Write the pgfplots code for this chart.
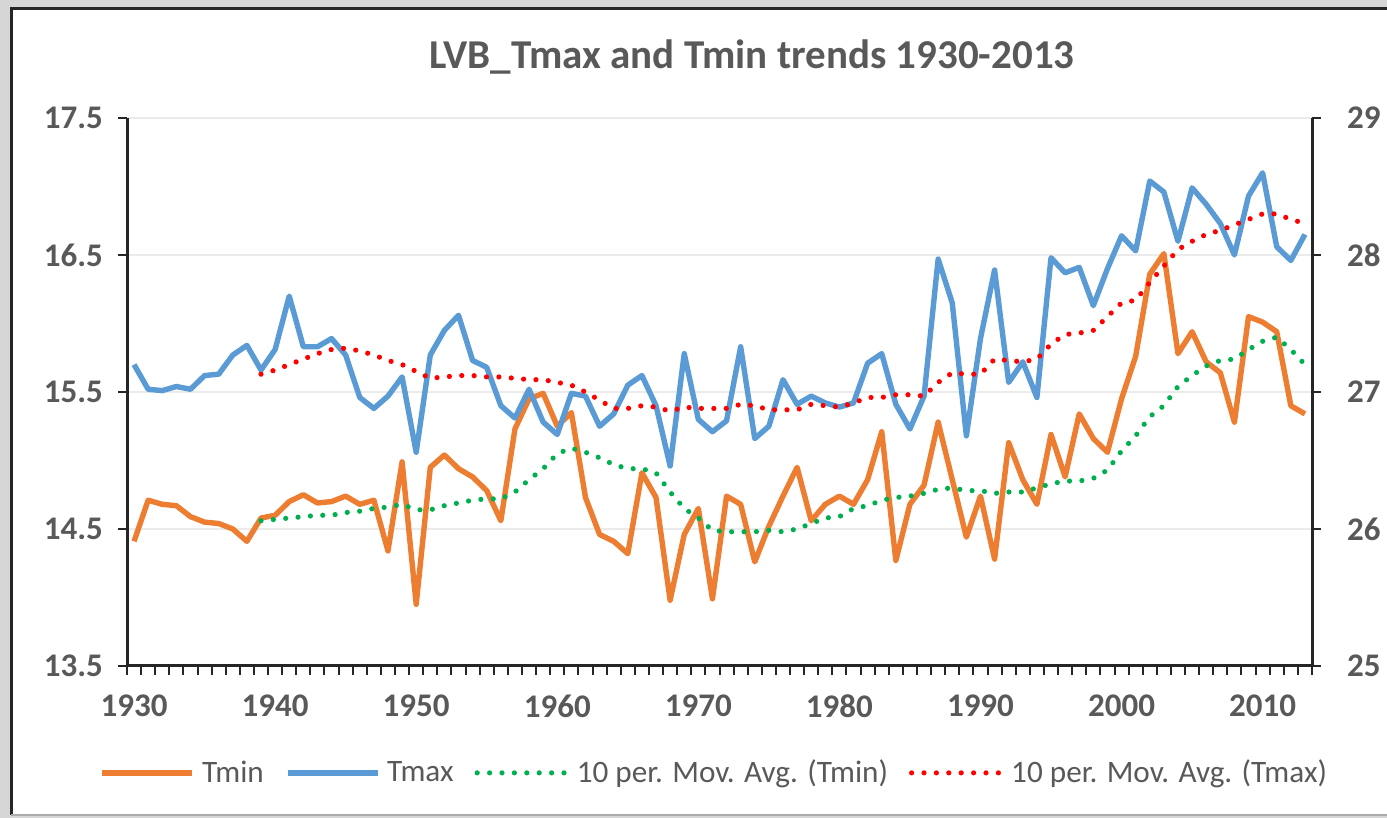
\documentclass[border=0pt]{standalone}
\usepackage{fontspec}
\setmainfont{Carlito}
\usepackage{pgfplots}
\usepackage{pgfplotstable}
\pgfplotsset{compat=1.18}
\definecolor{cOrange}{HTML}{ED7D31}
\definecolor{cBlue}{HTML}{5B9BD5}
\definecolor{cGreen}{HTML}{00B050}
\definecolor{cRed}{HTML}{FF0000}
\definecolor{cText}{HTML}{595959}
\definecolor{cGrid}{HTML}{EBEBEB}
\definecolor{cAxis}{HTML}{262626}
\definecolor{cOut}{HTML}{D6D6D6}

\pgfplotstableread{
year tmin tmax
1930 14.41 27.20
1931 14.71 27.02
1932 14.68 27.01
1933 14.67 27.04
1934 14.59 27.02
1935 14.55 27.12
1936 14.54 27.13
1937 14.50 27.27
1938 14.41 27.34
1939 14.58 27.16
1940 14.60 27.31
1941 14.70 27.70
1942 14.75 27.33
1943 14.69 27.33
1944 14.70 27.39
1945 14.74 27.27
1946 14.68 26.96
1947 14.71 26.88
1948 14.34 26.97
1949 14.99 27.11
1950 13.95 26.56
1951 14.95 27.27
1952 15.04 27.45
1953 14.94 27.56
1954 14.88 27.23
1955 14.78 27.18
1956 14.56 26.90
1957 15.23 26.81
1958 15.45 27.02
1959 15.49 26.78
1960 15.25 26.69
1961 15.35 26.99
1962 14.73 26.97
1963 14.46 26.75
1964 14.41 26.84
1965 14.32 27.05
1966 14.91 27.12
1967 14.73 26.90
1968 13.98 26.46
1969 14.46 27.28
1970 14.65 26.80
1971 13.99 26.71
1972 14.74 26.79
1973 14.68 27.33
1974 14.26 26.66
1975 14.52 26.75
1976 14.74 27.09
1977 14.95 26.91
1978 14.56 26.97
1979 14.68 26.92
1980 14.74 26.89
1981 14.68 26.92
1982 14.86 27.21
1983 15.21 27.28
1984 14.27 26.91
1985 14.68 26.73
1986 14.82 26.97
1987 15.28 27.97
1988 14.86 27.65
1989 14.44 26.68
1990 14.74 27.39
1991 14.28 27.89
1992 15.13 27.07
1993 14.86 27.22
1994 14.68 26.96
1995 15.19 27.98
1996 14.88 27.87
1997 15.34 27.91
1998 15.16 27.63
1999 15.06 27.90
2000 15.45 28.14
2001 15.76 28.03
2002 16.36 28.54
2003 16.51 28.46
2004 15.78 28.10
2005 15.94 28.49
2006 15.72 28.37
2007 15.64 28.23
2008 15.28 28.00
2009 16.05 28.43
2010 16.01 28.60
2011 15.94 28.06
2012 15.40 27.96
2013 15.34 28.15
}\annual

\pgfplotstableread{
year matmin matmax
1939 14.56 27.13
1940 14.57 27.16
1941 14.58 27.20
1942 14.59 27.24
1943 14.60 27.28
1944 14.60 27.31
1945 14.62 27.32
1946 14.63 27.30
1947 14.65 27.27
1948 14.66 27.23
1949 14.68 27.20
1950 14.64 27.15
1951 14.64 27.10
1952 14.67 27.11
1953 14.69 27.12
1954 14.71 27.12
1955 14.72 27.11
1956 14.72 27.11
1957 14.77 27.10
1958 14.86 27.09
1959 14.94 27.09
1960 15.05 27.07
1961 15.09 27.05
1962 15.06 27.00
1963 15.02 26.94
1964 14.97 26.88
1965 14.94 26.88
1966 14.94 26.90
1967 14.91 26.89
1968 14.77 26.86
1969 14.65 26.89
1970 14.58 26.88
1971 14.49 26.88
1972 14.48 26.88
1973 14.48 26.91
1974 14.48 26.90
1975 14.49 26.87
1976 14.48 26.87
1977 14.50 26.87
1978 14.54 26.91
1979 14.58 26.90
1980 14.59 26.89
1981 14.65 26.92
1982 14.67 26.96
1983 14.71 26.96
1984 14.73 26.98
1985 14.74 26.98
1986 14.76 26.97
1987 14.79 27.07
1988 14.80 27.14
1989 14.78 27.13
1990 14.78 27.13
1991 14.76 27.24
1992 14.77 27.23
1993 14.77 27.22
1994 14.80 27.24
1995 14.83 27.35
1996 14.85 27.42
1997 14.85 27.43
1998 14.87 27.45
1999 14.93 27.55
2000 15.07 27.65
2001 15.18 27.67
2002 15.32 27.80
2003 15.40 27.92
2004 15.54 28.04
2005 15.62 28.10
2006 15.69 28.15
2007 15.73 28.18
2008 15.74 28.22
2009 15.81 28.26
2010 15.87 28.30
2011 15.90 28.30
2012 15.81 28.26
2013 15.70 28.23
}\mavg

\pgfplotsset{
  common/.style={
    at={(63.5pt,76pt)}, anchor=south west, scale only axis,
    width=592.5pt, height=274pt,
    xmin=1929.5, xmax=2013.5,
    axis line style={cAxis, line width=1.5pt, -},
    tick align=outside, major tick length=4.5pt,
    tick style={cAxis, line width=1pt},
    /pgf/number format/assume math mode=true,
    ticklabel style={font=\bfseries\fontsize{16.5}{18}\selectfont, text=cText},
  },
}

\begin{document}
\begin{tikzpicture}
\path[use as bounding box] (0pt,0pt) rectangle (693.5pt,409pt);
\fill[cOut] (0pt,0pt) rectangle (693.5pt,409pt);
\fill[white] (5.5pt,1.5pt) rectangle (700pt,404.5pt);
\draw[cAxis, line width=1.5pt] (5.5pt,1.5pt) -- (5.5pt,404.5pt) -- (700pt,404.5pt);
\draw[cOut!80!black, line width=0.6pt] (5.5pt,1.5pt) -- (700pt,1.5pt);
\node[font=\bfseries\fontsize{20.5}{24}\selectfont, text=cText] at (376pt,380.5pt) {LVB\_Tmax and Tmin trends 1930-2013};

\begin{axis}[common,
  ymin=13.5, ymax=17.5,
  axis x line*=bottom, axis y line*=left,
  ytick={13.5,14.5,15.5,16.5,17.5},
  yticklabel style={/pgf/number format/fixed, /pgf/number format/fixed zerofill, /pgf/number format/precision=1, anchor=east, xshift=-4pt},
  xticklabel style={anchor=north, yshift=-11pt},
  ymajorgrids, grid style={cGrid, line width=1pt},
  xtick={1929.5,1930.5,...,2013.5}, xticklabels={},
  extra x ticks={1930,1940,1950,1960,1970,1980,1990,2000,2010},
  extra x tick labels={1930,1940,1950,1960,1970,1980,1990,2000,2010},
  extra x tick style={major tick length=0pt, grid=none},
]
\addplot[cOrange, line width=2.7pt, line join=round] table[x=year,y=tmin]{\annual};
\addplot[cGreen, line width=2.6pt, line cap=round, dash pattern=on 0pt off 6.2pt] table[x=year,y=matmin]{\mavg};
\end{axis}

\begin{axis}[common,
  ymin=25, ymax=29,
  axis x line=none, axis y line*=right,
  ytick={25,26,27,28,29},
  yticklabel style={anchor=west, xshift=9.5pt},
  legend style={at={(0.4965,-0.195)}, anchor=center, draw=none, fill=none,
    legend columns=4, font=\fontsize{15.6}{17}\selectfont, text=cText,
    /tikz/every odd column/.append style={column sep=1.5pt},
    /tikz/every even column/.append style={column sep=8.5pt}},
  legend image code/.code={\draw[#1] (0pt,0pt) -- (45pt,0pt);},
]
\addlegendimage{cOrange, line width=2.7pt}
\addlegendentry{Tmin}
\addplot[cBlue, line width=2.7pt, line join=round] table[x=year,y=tmax]{\annual};
\addlegendentry{Tmax}
\addlegendimage{cGreen, line width=2.6pt, line cap=round, dash pattern=on 0pt off 6.2pt}
\addlegendentry{10 per. Mov. Avg. (Tmin)}
\addplot[cRed, line width=2.6pt, line cap=round, dash pattern=on 0pt off 6.2pt] table[x=year,y=matmax]{\mavg};
\addlegendentry{10 per. Mov. Avg. (Tmax)}
\end{axis}
\end{tikzpicture}
\end{document}
